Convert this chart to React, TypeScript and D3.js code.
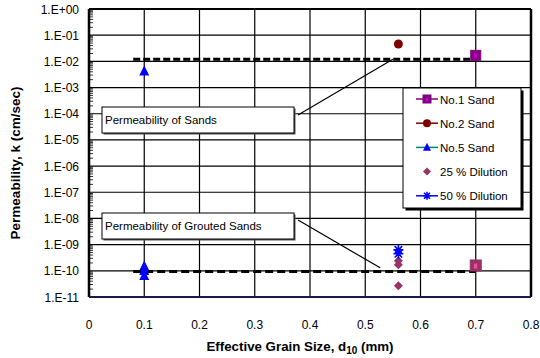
import React, { useRef, useEffect } from 'react';
import * as d3 from 'd3';

// x = effective grain size d10 (mm), y = permeability k (cm/sec)
const no1Sand = [{ x: 0.7, y: 1.7e-2 }];
const no1Grouted = [{ x: 0.7, y: 1.6e-10 }];
const no2Sand = [{ x: 0.56, y: 4.6e-2 }];
const no5Sand = [
  { x: 0.1, y: 4.2e-3 },
  { x: 0.1, y: 1.5e-10 },
  { x: 0.1, y: 1.0e-10 },
  { x: 0.1, y: 6.5e-11 },
];
const dilution25 = [
  { x: 0.56, y: 2.4e-10 },
  { x: 0.56, y: 1.7e-10 },
  { x: 0.56, y: 2.7e-11 },
];
const dilution50 = [
  { x: 0.56, y: 6.3e-10 },
  { x: 0.56, y: 4.5e-10 },
];
const sandsLine = [{ x: 0.08, y: 1.2e-2 }, { x: 0.7, y: 1.2e-2 }];
const groutedLine = [{ x: 0.08, y: 9.5e-11 }, { x: 0.7, y: 9.5e-11 }];
const xTicks = [0, 0.1, 0.2, 0.3, 0.4, 0.5, 0.6, 0.7, 0.8];
const yExponents = [0, -1, -2, -3, -4, -5, -6, -7, -8, -9, -10, -11];
const legendItems = [
  { name: 'No.1 Sand', line: '#800080', fill: '#800080', shape: 'square' },
  { name: 'No.2 Sand', line: '#800000', fill: '#800000', shape: 'circle' },
  { name: 'No.5 Sand', line: '#008080', fill: '#0000ff', shape: 'triangle' },
  { name: '25 % Dilution', line: null, fill: '#993366', shape: 'diamond' },
  { name: '50 % Dilution', line: '#0000ff', fill: '#0000ff', shape: 'star' },
];

const Chart = () => {
  const svgRef = useRef();

  useEffect(() => {
    document.body.style.margin = '0';
    d3.select(svgRef.current).selectAll('*').remove();

    const width = 540;
    const height = 358;
    const left = 89, right = 531, top = 9, bottom = 297;
    const font = 'Arial, "Liberation Sans", sans-serif';

    const svg = d3.select(svgRef.current)
      .attr('width', width)
      .attr('height', height)
      .style('background', '#fff');

    const x = d3.scaleLinear().domain([0, 0.8]).range([left, right]);
    const y = d3.scaleLog().domain([1e-11, 1]).range([bottom, top]);

    // gridlines
    svg.append('g').selectAll('line.v')
      .data(xTicks.slice(1, -1))
      .enter().append('line')
      .attr('x1', d => x(d)).attr('x2', d => x(d))
      .attr('y1', top).attr('y2', bottom)
      .attr('stroke', '#000').attr('stroke-width', 1.2);

    svg.append('g').selectAll('line.h')
      .data(yExponents.slice(1, -1))
      .enter().append('line')
      .attr('x1', left).attr('x2', right)
      .attr('y1', d => y(Math.pow(10, d))).attr('y2', d => y(Math.pow(10, d)))
      .attr('stroke', '#000').attr('stroke-width', 1.2);

    // minor log ticks on the left axis
    const minors = [];
    for (let e = -11; e < 0; e++) {
      for (let m = 2; m < 10; m++) minors.push(m * Math.pow(10, e));
    }
    svg.append('g').selectAll('line')
      .data(minors)
      .enter().append('line')
      .attr('x1', left).attr('x2', left + 4)
      .attr('y1', d => y(d)).attr('y2', d => y(d))
      .attr('stroke', '#000').attr('stroke-width', 0.8);

    // plot border
    svg.append('line').attr('x1', left).attr('x2', right).attr('y1', top).attr('y2', top)
      .attr('stroke', '#000').attr('stroke-width', 2);
    svg.append('line').attr('x1', left).attr('x2', left).attr('y1', top).attr('y2', bottom)
      .attr('stroke', '#000').attr('stroke-width', 2.5);
    svg.append('line').attr('x1', right).attr('x2', right).attr('y1', top).attr('y2', bottom)
      .attr('stroke', '#000').attr('stroke-width', 2.5);
    svg.append('line').attr('x1', left).attr('x2', right).attr('y1', bottom).attr('y2', bottom)
      .attr('stroke', '#1a1a4a').attr('stroke-width', 2);

    // tick labels
    svg.append('g').selectAll('text')
      .data(xTicks)
      .enter().append('text')
      .attr('x', d => x(d)).attr('y', bottom + 32)
      .attr('text-anchor', 'middle')
      .style('font-family', font).style('font-size', '12px')
      .text(d => d3.format('')(d));

    svg.append('g').selectAll('text')
      .data(yExponents)
      .enter().append('text')
      .attr('x', left - 10).attr('y', d => y(Math.pow(10, d)) + 4.5)
      .attr('text-anchor', 'end')
      .style('font-family', font).style('font-size', '12px')
      .text(d => d === 0 ? '1.E+00' : `1.E-${String(-d).padStart(2, '0')}`);

    // axis titles
    const xt = svg.append('text')
      .attr('x', 300).attr('y', 351)
      .attr('text-anchor', 'middle')
      .style('font-family', font).style('font-size', '13.3px').style('font-weight', 'bold');
    xt.append('tspan').text('Effective Grain Size, d');
    xt.append('tspan').attr('dy', 3).style('font-size', '10px').text('10');
    xt.append('tspan').attr('dy', -3).text(' (mm)');

    svg.append('text')
      .attr('transform', `translate(20, 163) rotate(-90)`)
      .attr('text-anchor', 'middle')
      .style('font-family', font).style('font-size', '13.5px').style('font-weight', 'bold')
      .text('Permeability, k (cm/sec)');

    // dashed reference lines
    const line = d3.line().x(d => x(d.x)).y(d => y(d.y));
    svg.append('path').datum(sandsLine).attr('d', line)
      .attr('fill', 'none').attr('stroke', '#000').attr('stroke-width', 3)
      .attr('stroke-dasharray', '7,3');
    svg.append('path').datum(groutedLine).attr('d', line)
      .attr('fill', 'none').attr('stroke', '#000').attr('stroke-width', 3)
      .attr('stroke-dasharray', '8,4');

    // annotation boxes with leader lines
    const notes = [
      { text: 'Permeability of Sands', bx: 102, by: 107, target: { x: 0.55, y: 1.2e-2 } },
      { text: 'Permeability of Grouted Sands', bx: 102, by: 213, target: { x: 0.527, y: 1.3e-10 } },
    ];
    notes.forEach(n => {
      const bw = 192, bh = 26;
      svg.append('line')
        .attr('x1', n.bx + bw + 4).attr('y1', n.by + (n.by < 150 ? 8 : 7))
        .attr('x2', x(n.target.x)).attr('y2', y(n.target.y))
        .attr('stroke', '#000').attr('stroke-width', 1.2);
      svg.append('rect')
        .attr('x', n.bx + 1.5).attr('y', n.by + 1.5).attr('width', bw).attr('height', bh)
        .attr('fill', '#555');
      svg.append('rect')
        .attr('x', n.bx).attr('y', n.by).attr('width', bw).attr('height', bh)
        .attr('fill', '#fff').attr('stroke', '#000').attr('stroke-width', 1);
      svg.append('text')
        .attr('x', n.bx + 3).attr('y', n.by + 17)
        .style('font-family', font).style('font-size', '11.5px')
        .text(n.text);
    });

    // markers
    const drawMarker = (g, shape, cx, cy, fill, s) => {
      if (shape === 'square') {
        g.append('rect').attr('x', cx - s).attr('y', cy - s).attr('width', 2 * s).attr('height', 2 * s)
          .attr('fill', fill).attr('stroke', fill);
        g.append('rect').attr('x', cx - s / 3).attr('y', cy - s / 3).attr('width', s * 0.6).attr('height', s * 0.9)
          .attr('fill', d3.color(fill).brighter(1.2));
      } else if (shape === 'circle') {
        g.append('circle').attr('cx', cx).attr('cy', cy).attr('r', s).attr('fill', fill);
      } else if (shape === 'triangle') {
        g.append('path')
          .attr('d', `M${cx},${cy - s * 1.15}L${cx + s},${cy + s * 0.85}L${cx - s},${cy + s * 0.85}Z`)
          .attr('fill', fill);
      } else if (shape === 'diamond') {
        g.append('path')
          .attr('d', `M${cx},${cy - s}L${cx + s},${cy}L${cx},${cy + s}L${cx - s},${cy}Z`)
          .attr('fill', fill);
      } else if (shape === 'star') {
        const r = s;
        g.append('path')
          .attr('d', `M${cx - r},${cy}L${cx + r},${cy}M${cx},${cy - r}L${cx},${cy + r}` +
            `M${cx - r * 0.75},${cy - r * 0.75}L${cx + r * 0.75},${cy + r * 0.75}` +
            `M${cx - r * 0.75},${cy + r * 0.75}L${cx + r * 0.75},${cy - r * 0.75}`)
          .attr('stroke', fill).attr('stroke-width', 1.6).attr('fill', 'none');
      }
    };

    const series = [
      { data: no5Sand, shape: 'triangle', fill: '#0000ff', s: 5 },
      { data: no2Sand, shape: 'circle', fill: '#800000', s: 4.5 },
      { data: no1Sand, shape: 'square', fill: '#800080', s: 5 },
      { data: no1Grouted, shape: 'square', fill: '#993366', s: 5.5 },
      { data: dilution25, shape: 'diamond', fill: '#993366', s: 4.5 },
      { data: dilution50, shape: 'star', fill: '#0000ff', s: 5 },
    ];
    const mg = svg.append('g');
    series.forEach(sr => {
      sr.data.forEach(d => drawMarker(mg, sr.shape, x(d.x), y(d.y), sr.fill, sr.s));
    });

    // legend
    const lx = 403, ly = 88, lw = 118, lh = 120;
    svg.append('rect').attr('x', lx + 2.5).attr('y', ly + 2.5).attr('width', lw).attr('height', lh)
      .attr('fill', '#000');
    svg.append('rect').attr('x', lx).attr('y', ly).attr('width', lw).attr('height', lh)
      .attr('fill', '#fff').attr('stroke', '#000').attr('stroke-width', 1);
    const lg = svg.append('g');
    legendItems.forEach((it, i) => {
      const cy = ly + 11 + i * 24.2;
      if (it.line) {
        lg.append('line').attr('x1', lx + 13).attr('x2', lx + 35).attr('y1', cy).attr('y2', cy)
          .attr('stroke', it.line).attr('stroke-width', 1.5);
      }
      drawMarker(lg, it.shape, lx + 24, cy, it.fill, 4);
      lg.append('text')
        .attr('x', lx + 37).attr('y', cy + 4.5)
        .style('font-family', font).style('font-size', '11.5px')
        .text(it.name);
    });
  }, []);

  return <svg ref={svgRef}></svg>;
};

export default function App() {
  return <Chart />;
}
